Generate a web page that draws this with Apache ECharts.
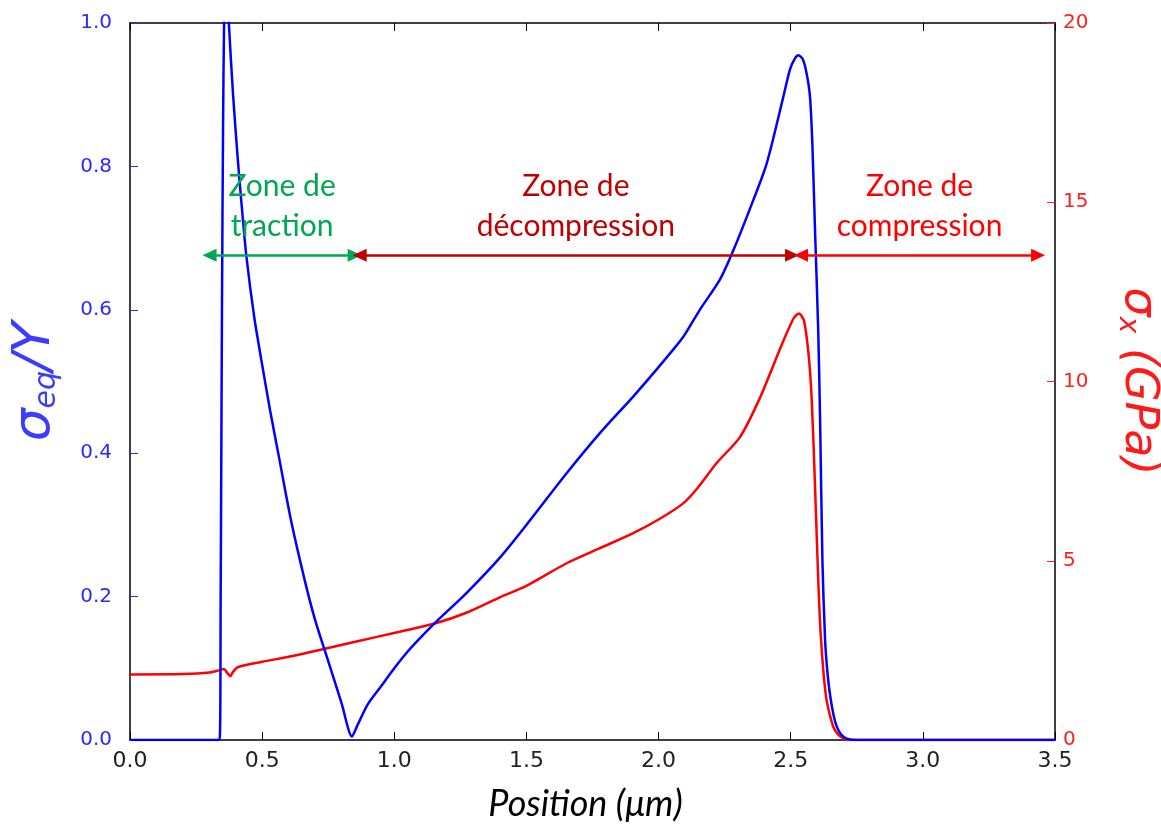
<!DOCTYPE html>
<html><head><meta charset="utf-8">
<script src="https://cdn.jsdelivr.net/npm/echarts@6/dist/echarts.min.js"></script>
<style>html,body{margin:0;padding:0;background:#fff}#c{width:1161px;height:828px}</style>
</head><body><div id="c"></div>
<script>
// Blue: sigma_eq / Y (left axis)
const posBlue = [0, 0.2, 0.339, 0.343, 0.348, 0.352, 0.356, 0.362, 0.368, 0.374, 0.39, 0.408, 0.425, 0.44, 0.47, 0.497, 0.53, 0.566, 0.61, 0.661, 0.70, 0.75, 0.80, 0.84, 0.86, 0.90, 0.95, 1.00, 1.05, 1.10, 1.153, 1.273, 1.399, 1.5, 1.652, 1.778, 1.904, 2.0, 2.093, 2.156, 2.232, 2.283, 2.35, 2.409, 2.472, 2.497, 2.515, 2.529, 2.545, 2.56, 2.573, 2.582, 2.592, 2.604, 2.611, 2.62, 2.63, 2.64, 2.65, 2.662, 2.674, 2.69, 2.712, 2.75, 3.0, 3.5];
const valBlue = [0, 0, 0, 0.2, 0.6, 0.85, 1.0, 1.08, 1.06, 1.0, 0.9, 0.809, 0.735, 0.676, 0.59, 0.53, 0.46, 0.39, 0.305, 0.223, 0.168, 0.11, 0.052, 0.005, 0.02, 0.05, 0.075, 0.1, 0.123, 0.143, 0.163, 0.205, 0.254, 0.30, 0.372, 0.428, 0.479, 0.52, 0.562, 0.600, 0.642, 0.683, 0.745, 0.804, 0.897, 0.935, 0.950, 0.955, 0.95, 0.93, 0.897, 0.83, 0.711, 0.572, 0.45, 0.25, 0.14, 0.09, 0.06, 0.035, 0.019, 0.008, 0.002, 0, 0, 0];
// Red: sigma_x in GPa (right axis)
const posRed = [0, 0.2, 0.3, 0.34, 0.355, 0.37, 0.38, 0.39, 0.408, 0.5, 0.6, 0.717, 0.84, 1.02, 1.153, 1.273, 1.399, 1.5, 1.652, 1.778, 1.904, 2.0, 2.093, 2.15, 2.219, 2.308, 2.384, 2.459, 2.51, 2.531, 2.55, 2.567, 2.579, 2.592, 2.604, 2.613, 2.625, 2.636, 2.661, 2.68, 2.699, 2.72, 3.0, 3.5];
const valRed = [1.83, 1.84, 1.88, 1.95, 1.98, 1.85, 1.78, 1.9, 2.03, 2.18, 2.32, 2.51, 2.72, 3.02, 3.25, 3.55, 3.98, 4.3, 4.93, 5.35, 5.77, 6.15, 6.6, 7.05, 7.72, 8.45, 9.55, 10.9, 11.75, 11.9, 11.7, 10.8, 9.57, 7.08, 4.5, 3.0, 1.8, 1.1, 0.37, 0.15, 0.05, 0, 0, 0];
// Tick labels
const xTicks = ['0.0','0.5','1.0','1.5','2.0','2.5','3.0','3.5'];
const yLeftTicks = ['0.0','0.2','0.4','0.6','0.8','1.0'];
const yRightTicks = ['0','5','10','15','20'];
// Zone annotations (double arrows)
const zoneNames = ['Zone de\ntraction', 'Zone de\ndécompression', 'Zone de\ncompression'];
const zoneFrom = [0.301, 0.869, 2.539];
const zoneTo = [0.850, 2.505, 3.436];
const zoneColors = ['#00a651', '#c00000', '#ff0000'];
const arrowLevel = 0.676;
const textLevel = 0.745;

const blueData = posBlue.map((x, i) => [x, valBlue[i]]);
const redData = posRed.map((x, i) => [x, valRed[i]]);

const chart = echarts.init(document.getElementById('c'), null, {renderer: 'canvas'});
const tickFont = 'DejaVu Sans';
const option = {
  animation: false,
  backgroundColor: '#fff',
  grid: {left: 130, right: 106, top: 23, bottom: 88, outerBoundsMode: 'none', containLabel: false},
  xAxis: [{
    type: 'value', min: 0, max: 3.5, interval: 0.5, position: 'bottom',
    axisLine: {show: true, onZero: false, lineStyle: {color: '#000', width: 1.5}},
    axisTick: {show: true, inside: true, length: 8, lineStyle: {color: '#000'}},
    axisLabel: {color: '#222', fontSize: 22, fontFamily: tickFont, margin: 10,
      formatter: (v) => xTicks[Math.round(v / 0.5)]},
    splitLine: {show: false},
    name: 'Position (μm)', nameLocation: 'middle', nameGap: 46,
    nameTextStyle: {fontSize: 36, fontStyle: 'italic', color: '#000', fontFamily: 'Lato', padding: [0, 14, 0, 0]}
  }, {
    type: 'value', min: 0, max: 3.5, interval: 0.5, position: 'top',
    axisLine: {show: true, onZero: false, lineStyle: {color: '#000', width: 1.5}},
    axisTick: {show: true, inside: true, length: 8, lineStyle: {color: '#000'}},
    axisLabel: {show: false}, splitLine: {show: false}
  }],
  yAxis: [{
    type: 'value', min: 0, max: 1, interval: 0.2, position: 'left',
    axisLine: {show: true, onZero: false, lineStyle: {color: '#000', width: 1.5}},
    axisTick: {show: true, inside: true, length: 8, lineStyle: {color: '#2a2aff'}},
    axisLabel: {color: '#2a2aff', fontSize: 20, fontFamily: tickFont, margin: 18,
      formatter: (v) => yLeftTicks[Math.round(v / 0.2)]},
    splitLine: {show: false},
    name: '{i|σ}{s|eq}{i|/Y}', nameLocation: 'middle', nameGap: 68, nameRotate: 90,
    nameTextStyle: {rich: {
      i: {fontSize: 52, fontStyle: 'italic', color: '#3c3cff', fontFamily: 'DejaVu Sans'},
      s: {fontSize: 30, fontStyle: 'italic', color: '#3c3cff', fontFamily: 'DejaVu Sans', padding: [24, 0, 0, 0]}
    }}
  }, {
    type: 'value', min: 0, max: 20, interval: 5, position: 'right',
    axisLine: {show: true, onZero: false, lineStyle: {color: '#000', width: 1.5}},
    axisTick: {show: true, inside: true, length: 8, lineStyle: {color: '#ff2020'}},
    axisLabel: {color: '#ff2020', fontSize: 20, fontFamily: tickFont, margin: 8,
      formatter: (v) => yRightTicks[Math.round(v / 5)]},
    splitLine: {show: false},
    name: '{i|σ}{s|x}{i| (GPa)}', nameLocation: 'middle', nameGap: 58, nameRotate: -90,
    nameTextStyle: {rich: {
      i: {fontSize: 46, fontStyle: 'italic', color: '#ff1a1a', fontFamily: 'DejaVu Sans'},
      s: {fontSize: 28, fontStyle: 'italic', color: '#ff1a1a', fontFamily: 'DejaVu Sans', padding: [22, 0, 0, 0]}
    }}
  }],
  series: [{
    type: 'line', name: 'σx', xAxisIndex: 0, yAxisIndex: 1, data: redData,
    showSymbol: false, symbol: 'none', clip: true, smooth: 0.25,
    lineStyle: {color: '#ff0000', width: 2.5}, z: 2
  }, {
    type: 'line', name: 'σeq/Y', xAxisIndex: 0, yAxisIndex: 0, data: blueData,
    showSymbol: false, symbol: 'none', clip: true, smooth: 0.25,
    lineStyle: {color: '#0000ff', width: 2.5}, z: 3,
    markLine: {
      silent: true, symbol: ['triangle', 'triangle'], symbolSize: [13, 14],
      label: {show: false},
      data: zoneNames.map((n, i) => [
        {coord: [zoneFrom[i], arrowLevel], lineStyle: {color: zoneColors[i], width: 2.5, type: 'solid'}, itemStyle: {color: zoneColors[i]}},
        {coord: [zoneTo[i], arrowLevel]}
      ])
    },
    markPoint: {
      silent: true, symbol: 'circle', symbolSize: 0,
      data: zoneNames.map((n, i) => ({
        coord: [(zoneFrom[i] + zoneTo[i]) / 2, textLevel],
        label: {show: true, position: 'inside', formatter: n, color: zoneColors[i],
          fontSize: 30, fontFamily: 'Lato', lineHeight: 40, align: 'center'}
      }))
    }
  }]
};
chart.setOption(option);
</script></body></html>
